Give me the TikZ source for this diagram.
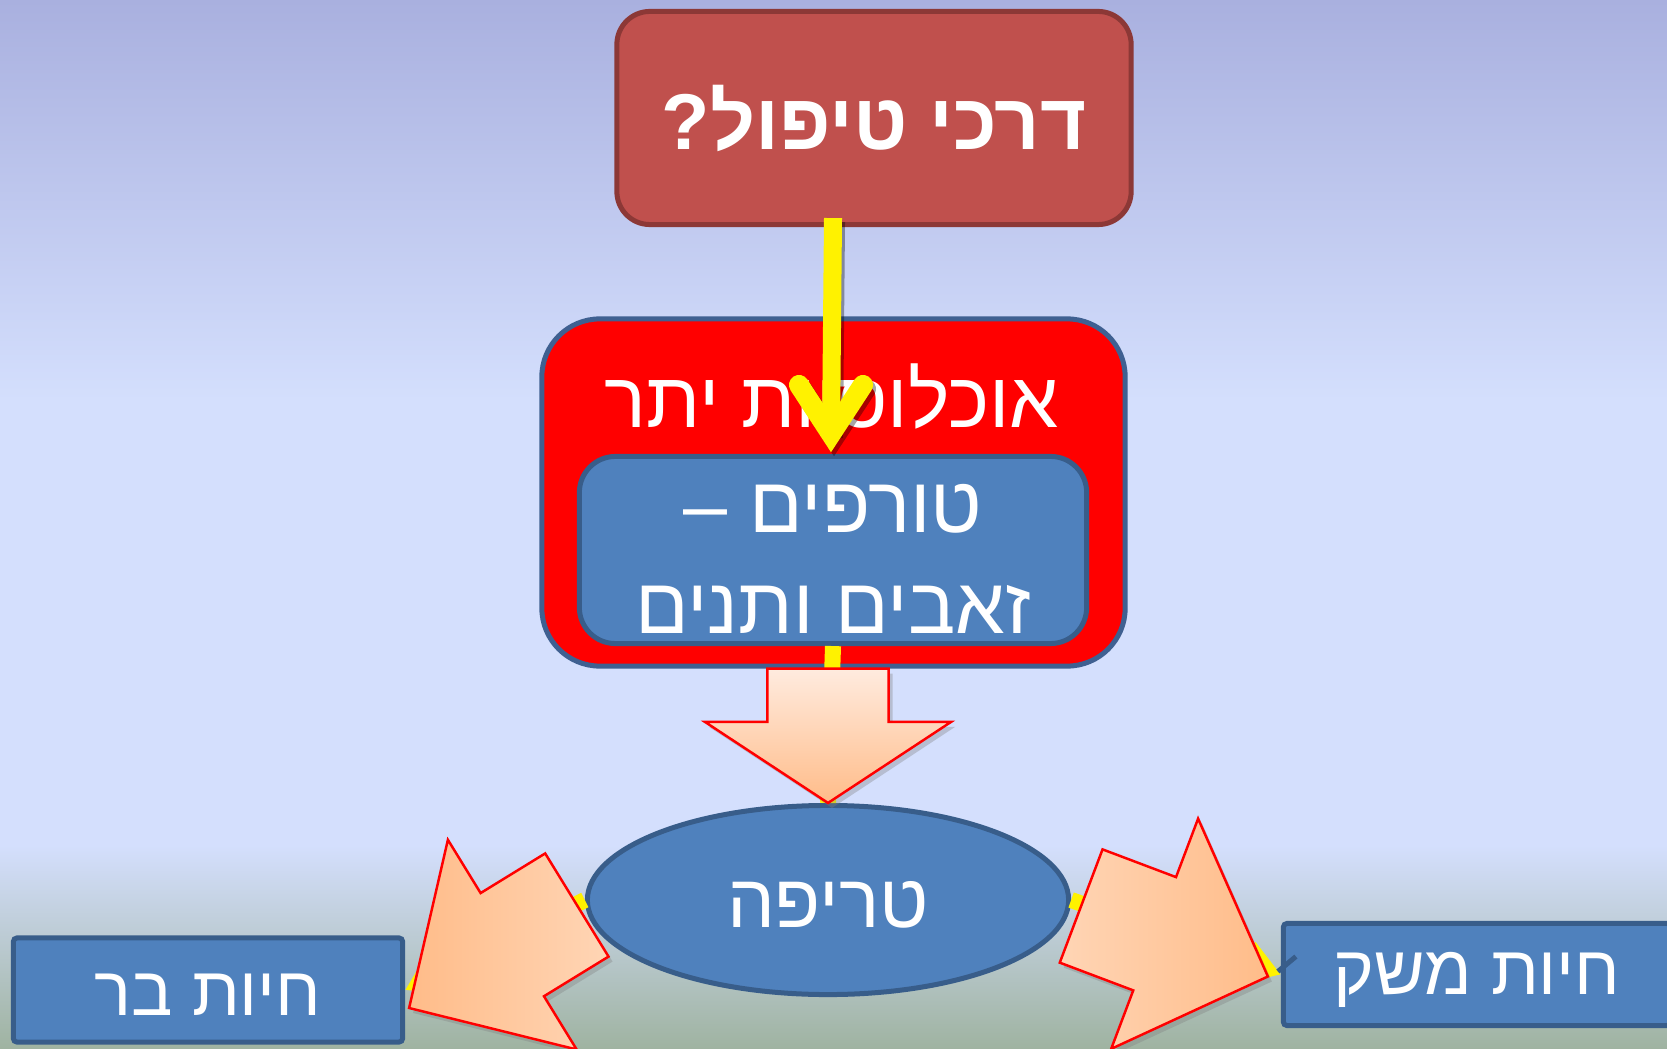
\documentclass[tikz,border=0pt]{standalone}
\usepackage{fontspec}
\setmainfont{Liberation Sans}
\newfontfamily\hebfont[Script=Hebrew]{Liberation Sans}
\TeXXeTstate=1
\usepackage{tikz}
\usetikzlibrary{arrows.meta, calc, shadows, shapes.geometric}
\definecolor{bgtop}{HTML}{A9B0DF}
\definecolor{bgmid}{HTML}{D4DFFD}
\definecolor{bgbot}{HTML}{9FB3A1}
\definecolor{brick}{HTML}{C0504D}
\definecolor{brickdark}{HTML}{8C3836}
\definecolor{popedge}{HTML}{3F6091}
\definecolor{boxblue}{HTML}{4F81BD}
\definecolor{boxedge}{HTML}{385D8A}
\definecolor{peachtop}{HTML}{FFEBDF}
\definecolor{peachlt}{HTML}{FFD5B5}
\definecolor{peachdk}{HTML}{FFBC89}
\newcommand{\heb}[1]{\beginR #1\endR}
% same, set a little lower than the node centre
\newcommand{\heblow}[1]{\raisebox{-0.05cm}[\height][\depth]{\beginR #1\endR}}
% block arrow: tail, tip, head length, shading
\newcommand{\fatarrow}[4]{%
  \coordinate (fj) at ($(#2)!#3!(#1)$);
  \path[fatarrowstyle, #4]
    ($(#1)!0.605cm!90:(#2)$) -- ($(fj)!0.605cm!-90:(#1)$)
    -- ($(fj)!1.23cm!-90:(#1)$) -- (#2)
    -- ($(fj)!1.23cm!90:(#1)$) -- ($(fj)!0.605cm!90:(#1)$)
    -- ($(#1)!0.605cm!-90:(#2)$) -- cycle;
}
\tikzset{
  titlebox/.style={rectangle, rounded corners=0.33cm, draw=brickdark,
                   fill=brick, line width=0.05cm, minimum width=5.14cm,
                   minimum height=2.13cm, text=white,
                   font=\hebfont\bfseries\fontsize{22.5}{27}\selectfont},
  popbox/.style={rectangle, rounded corners=0.58cm, draw=popedge, fill=red,
                 line width=0.05cm, minimum width=5.83cm, minimum height=3.47cm},
  whitetext/.style={text=white, inner sep=0pt, align=center,
                    font=\hebfont\fontsize{22.3}{27}\selectfont},
  bluebox/.style={rectangle, draw=boxedge, fill=boxblue, line width=0.05cm,
                  text=white, align=center, inner sep=0pt,
                  font=\hebfont\fontsize{19.7}{24}\selectfont},
  blueoval/.style={ellipse, draw=boxedge, fill=boxblue, line width=0.05cm,
                   minimum width=4.81cm, minimum height=1.89cm, inner sep=0pt,
                   text=white, font=\hebfont\fontsize{21.5}{26}\selectfont},
  yellowline/.style={draw=yellow, line width=0.18cm},
  fatarrowstyle/.style={shade, draw=red, line width=0.7pt,
                        drop shadow={opacity=0.35, shadow xshift=0.04cm,
                                     shadow yshift=-0.05cm}},
}
\begin{document}
\begin{tikzpicture}[x=0.01cm, y=-0.01cm]
  \useasboundingbox (0,0) rectangle (1667,1049);

  %% Background
  \shade[top color=bgtop, bottom color=bgmid] (0,0) rectangle (1667,401);
  \fill[bgmid] (0,400) rectangle (1667,846);
  \shade[top color=bgmid, bottom color=bgbot] (0,845) rectangle (1667,1049);

  %% Boxes
  \node[titlebox] (question) at (874,118) {\heb{דרכי טיפול?}};
  \node[popbox] (overpop) at (833.5,492.5) {};
  \node[whitetext] (overpoplbl) at (832,396) {\heb{אוכלוסיות יתר}};
  \node[bluebox, rounded corners=0.36cm, minimum width=5.07cm,
        minimum height=1.87cm] (predators) at (833,550) {};
  \node[whitetext, font=\hebfont\fontsize{22.5}{28.5}\selectfont]
    (predatorslbl) at (833,559) {\heb{טורפים –}\\\heb{זאבים ותנים}};
  \node[blueoval] (attack) at (828,900) {\heblow{טריפה}};
  \node[bluebox, rounded corners=1pt, minimum width=3.89cm,
        minimum height=1.04cm] (wild) at (208,990) {\heblow{חיות בר}};
  \node[bluebox, rounded corners=1pt, minimum width=3.87cm,
        minimum height=1.02cm] (farm) at (1477,974.5) {\heblow{חיות משק}};

  %% Connectors under the block arrows
  \draw[yellowline, line width=0.16cm] (predators.south) -- (attack.north);
  \draw[yellowline, line width=0.16cm, -{Triangle[length=0.35cm, width=0.42cm]}]
    (attack.west) -- (wild.east);
  \draw[yellowline, line width=0.16cm, -{Triangle[length=0.35cm, width=0.42cm]}]
    (attack.east) -- (farm.west);
  \draw[boxedge, line width=0.05cm] ($(farm.west)+(-3,-3)$) -- ++(18,-15);

  %% Block arrows
  \coordinate (dtail) at (overpop.south -| attack.north);
  \fatarrow{dtail}{attack.north}{0.81cm}{top color=peachtop, bottom color=peachdk}
  \coordinate (ltail) at ($(attack.west)+(-8,5)$);
  \coordinate (ltip) at ($(wild.east)+(4,18)$);
  \fatarrow{ltail}{ltip}{1.21cm}{left color=peachdk, right color=peachlt}
  \coordinate (rtail) at ($(attack.east)+(10,6)$);
  \coordinate (rtip) at ($(farm.west)+(-13,2)$);
  \fatarrow{rtail}{rtip}{1.21cm}{left color=peachlt, right color=peachdk}

  %% Yellow arrow into the predators box
  \coordinate (ystart) at ($(question.south -| predators.north)+(0,-9)$);
  \coordinate (yvertex) at ($(predators.north)+(-2,-20)$);
  \begin{scope}[transform canvas={xshift=0.03cm, yshift=-0.04cm}]
    \draw[yellowline, draw=black, opacity=0.35] (ystart) -- (yvertex);
    \draw[yellowline, draw=black, opacity=0.35, line width=0.2cm,
          line cap=round, line join=miter]
      ($(yvertex)+(-32,-49)$) -- (yvertex) -- ($(yvertex)+(32,-49)$);
  \end{scope}
  \draw[yellowline] (ystart) -- (yvertex);
  \draw[yellowline, line width=0.2cm, line cap=round, line join=miter]
    ($(yvertex)+(-32,-49)$) -- (yvertex) -- ($(yvertex)+(32,-49)$);
\end{tikzpicture}
\end{document}
